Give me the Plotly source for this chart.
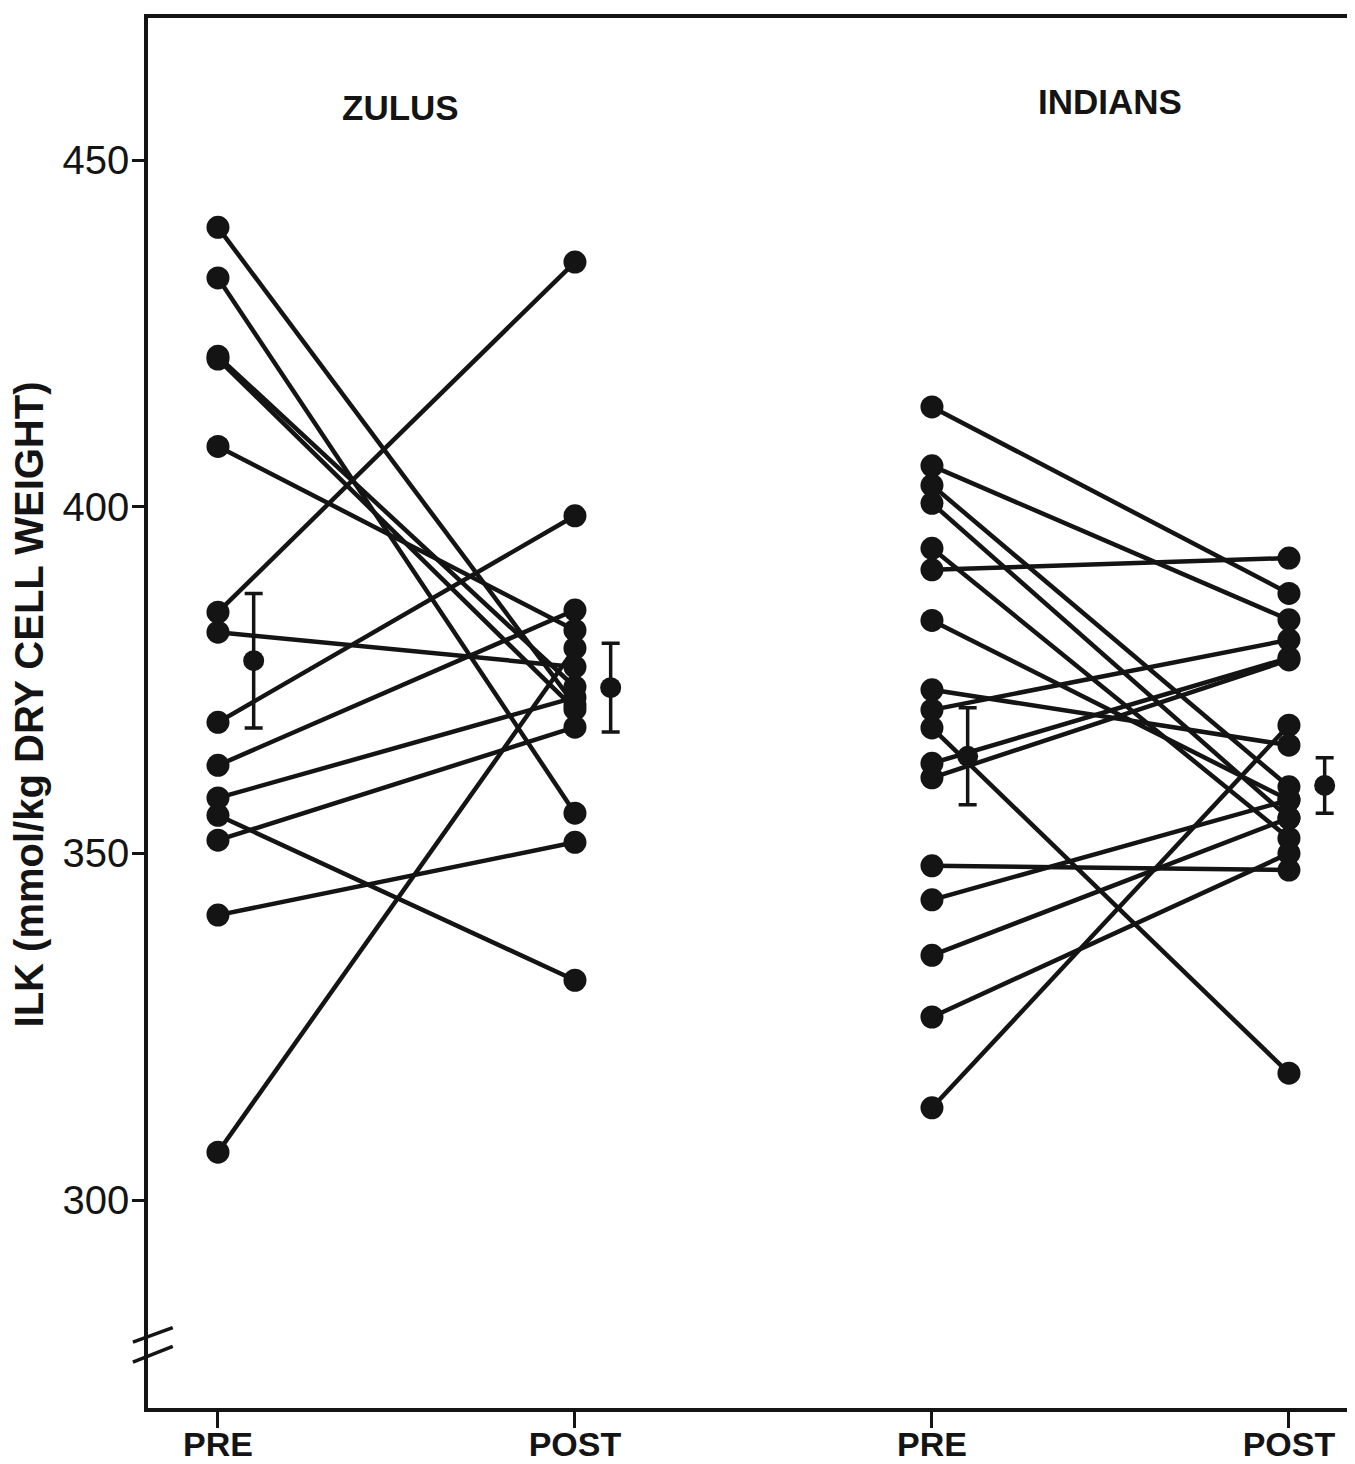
import plotly.graph_objects as go

# ---- data ----
x_labels = ["PRE", "POST", "PRE", "POST"]
x_pos = [0, 1, 2, 3]
groups = ["ZULUS", "INDIANS"]

zulu_pre = [440.3, 433.0, 421.7, 421.3, 408.7, 384.8, 381.9, 368.9, 362.7, 358.0, 355.5, 351.9, 341.1, 306.9]
zulu_post = [371.4, 355.8, 374.0, 370.8, 382.2, 435.3, 376.9, 398.7, 385.1, 372.5, 331.7, 368.2, 351.6, 379.6]

indian_pre = [414.4, 405.9, 403.1, 400.5, 394.0, 390.9, 383.6, 373.6, 370.7, 368.1, 363.0, 360.9, 348.2, 343.3, 335.3, 326.4, 313.3]
indian_post = [387.5, 383.7, 359.6, 355.1, 352.2, 392.6, 357.7, 365.6, 380.8, 318.3, 378.2, 377.9, 347.6, 357.7, 355.1, 350.0, 368.5]

mean_vals = [377.8, 373.9, 364.0, 359.8]
mean_err = [9.7, 6.4, 7.0, 4.0]
mean_offset = 0.1

INK = "#141414"
FONT = "Liberation Sans, Arial, sans-serif"

fig = go.Figure()


def add_pairs(pre, post, xa, xb):
    xs, ys = [], []
    for a, b in zip(pre, post):
        xs += [xa, xb, None]
        ys += [a, b, None]
    fig.add_trace(go.Scatter(
        x=xs, y=ys, mode="lines+markers",
        line=dict(color=INK, width=4.5),
        marker=dict(color=INK, size=23, line=dict(width=0)),
        showlegend=False, hoverinfo="skip", cliponaxis=False))


add_pairs(zulu_pre, zulu_post, x_pos[0], x_pos[1])
add_pairs(indian_pre, indian_post, x_pos[2], x_pos[3])

fig.add_trace(go.Scatter(
    x=[p + mean_offset for p in x_pos], y=mean_vals, mode="markers",
    marker=dict(color=INK, size=21),
    error_y=dict(type="data", array=mean_err, visible=True,
                 color=INK, thickness=3.5, width=9),
    showlegend=False, hoverinfo="skip", cliponaxis=False))

# group titles
fig.add_annotation(x=0.51, y=457.6, text="<b>ZULUS</b>", showarrow=False,
                   font=dict(size=35, color=INK, family=FONT))
fig.add_annotation(x=2.50, y=458.4, text="<b>INDIANS</b>", showarrow=False,
                   font=dict(size=35, color=INK, family=FONT))

# y-axis title
fig.add_annotation(xref="paper", yref="y", x=-0.0985, y=371.5,
                   xanchor="center", yanchor="middle",
                   text="<b>ILK (mmol/kg DRY CELL WEIGHT)</b>", textangle=-90,
                   showarrow=False, font=dict(size=40, color=INK, family=FONT))

# axis break marks
for y0, y1 in [(279.5, 281.6), (276.6, 278.9)]:
    fig.add_shape(type="line", xref="paper", yref="y",
                  x0=-0.0125, x1=0.0205, y0=y0, y1=y1,
                  line=dict(color=INK, width=3.5))

# the page body has an 8px default margin, so the figure is offset by 8px
fig.update_layout(
    width=1347, height=1456,
    margin=dict(l=140, r=0, t=10, b=56, autoexpand=False),
    paper_bgcolor="white", plot_bgcolor="white",
    font=dict(family=FONT, color=INK),
    xaxis=dict(range=[-0.196, 3.185], tickmode="array", tickvals=x_pos,
               ticktext=["<b>%s</b>" % t for t in x_labels],
               showline=True, linecolor=INK, linewidth=3.5, mirror=True,
               ticks="outside", ticklen=16, tickwidth=3, tickcolor=INK,
               showgrid=False, zeroline=False, automargin=False,
               ticklabelstandoff=-13,
               tickfont=dict(size=34, color=INK, family=FONT)),
    yaxis=dict(range=[270, 470.5], tickmode="array", tickvals=[300, 350, 400, 450],
               showline=True, linecolor=INK, linewidth=3.5,
               ticks="outside", ticklen=12, tickwidth=3, tickcolor=INK,
               showgrid=False, zeroline=False, automargin=False,
               ticklabelstandoff=-5,
               tickfont=dict(size=40, color=INK, family=FONT)),
)

fig.write_html("out.html")
